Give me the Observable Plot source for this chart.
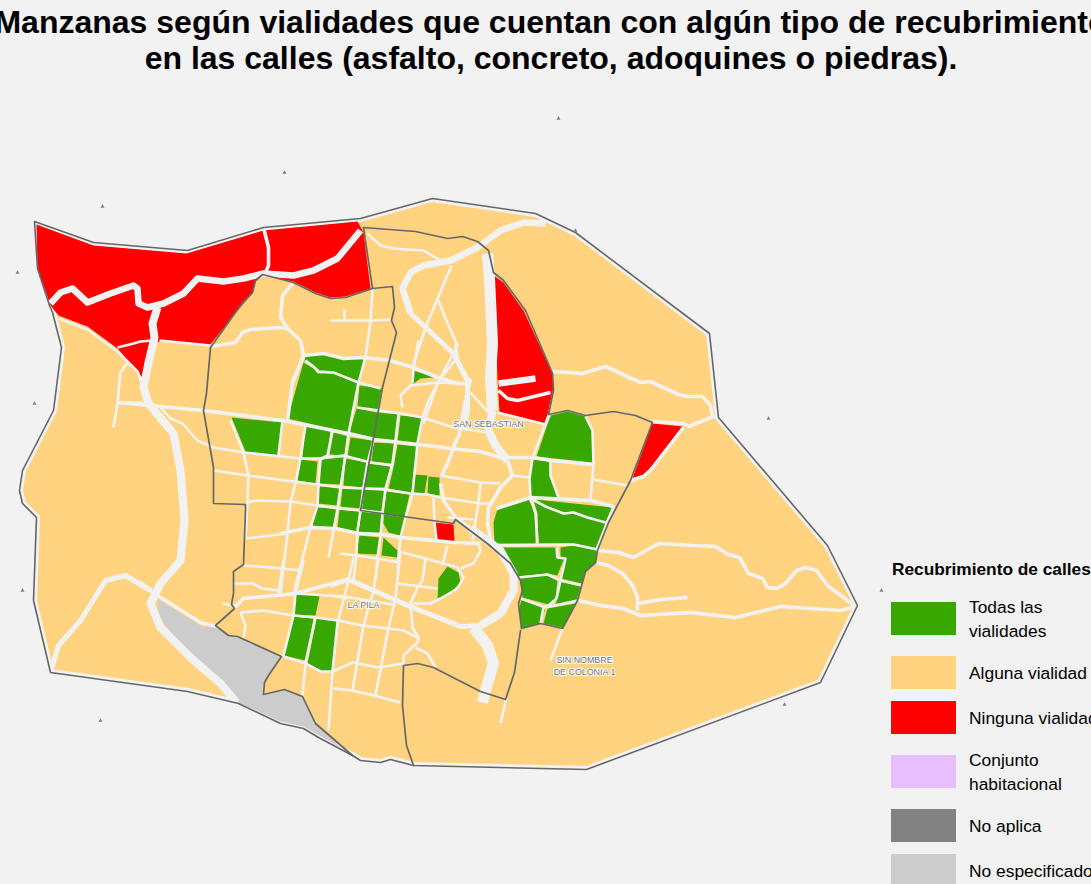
<!DOCTYPE html>
<html lang="es">
<head>
<meta charset="utf-8">
<script src="https://cdn.jsdelivr.net/npm/d3@7"></script>
<script src="https://cdn.jsdelivr.net/npm/@observablehq/plot@0.6"></script>
<style>
html,body{margin:0;padding:0;background:#f2f2f2;width:1091px;height:884px;overflow:hidden;position:relative;font-family:"Liberation Sans",Arial,sans-serif;}
#title{position:absolute;left:551px;top:4px;transform:translateX(-50%);white-space:nowrap;text-align:center;font-weight:bold;font-size:32px;line-height:36px;color:#000;margin:0;}
#chart{position:absolute;left:0;top:84px;}
#chart svg{display:block;background:transparent;}
#legend{position:absolute;left:0;top:0;width:1091px;height:884px;overflow:hidden;pointer-events:none;color:#000;}
#legend .t{position:absolute;left:892px;top:559px;font-weight:bold;font-size:17.3px;line-height:20px;white-space:nowrap;}
#legend .s{position:absolute;left:891px;width:65px;height:33px;}
#legend .l{position:absolute;left:969px;font-size:17.4px;line-height:24px;white-space:nowrap;transform:translateY(-50%);}
</style>
</head>
<body>
<h1 id="title">Manzanas según vialidades que cuentan con algún tipo de recubrimiento<br>en las calles (asfalto, concreto, adoquines o piedras).</h1>
<div id="chart"></div>
<div id="legend"></div>
<script>
const legendTitle = "Recubrimiento de calles";
const legendLabels = ["Todas las\nvialidades","Alguna vialidad","Ninguna vialidad","Conjunto\nhabitacional","No aplica","No especificado"];
const legendColors = ["#38a800","#ffd380","#ff0000","#e8beff","#828282","#cccccc"];

const cityOutline = [[[34,221],[93,242],[187,250],[263,227],[360,218],[432,198],[535,213],[575,232],[709,333],[718,417],[827,545],[857,605],[820,682],[586,769],[413,765],[390,759],[380,762],[360,760],[352,755],[318,737],[303,728],[280,723],[238,703],[187,691],[50,672],[33,600],[36,517],[22,503],[19,490],[22,470],[53,410],[61,347],[52,312],[49,305],[37,268],[34,221]]];

const grayBlocks = [[[158,599],[203,627],[215,626],[228,635],[237,636],[280,657],[268,675],[264,682],[263,694],[284,689],[302,696],[315,723],[340,747],[303,726],[280,721],[238,702],[227,685],[180,645],[160,618],[157,607]]];

const redBlocks = [
 [[36,224],[93,245],[186,253],[263,230],[357,221],[363,232],[370,288],[345,296],[330,297],[315,292],[293,281],[262,275],[255,281],[252,293],[243,303],[209,345],[160,341],[152,342],[142,377],[117,348],[87,326],[58,315],[50,305],[37,268]],
 [[493,275],[503,282],[523,310],[552,373],[553,387],[545,423],[499,412],[497,377]],
 [[652,423],[682,426],[650,467],[643,474],[632,478]],
 [[433,522],[453,524],[454,542],[436,539]]
];

const greenBlocks = [
 [[305,356],[330,353],[343,358],[363,358],[358,381],[333,372],[318,371],[313,365],[304,361]],
 [[303,362],[313,368],[317,373],[333,373],[357,383],[348,432],[287,418]],
 [[359,385],[381,388],[377,410],[357,406]],
 [[356,408],[377,412],[375,438],[349,432]],
 [[377,412],[398,414],[395,440],[374,438]],
 [[400,415],[422,417],[417,443],[397,441]],
 [[305,425],[330,431],[327,455],[319,459],[302,457]],
 [[333,432],[348,436],[345,455],[329,454]],
 [[350,437],[373,440],[370,461],[347,456]],
 [[373,442],[394,443],[392,463],[371,461]],
 [[397,444],[416,446],[411,493],[388,488],[393,467]],
 [[300,459],[317,461],[315,483],[297,480]],
 [[321,459],[343,457],[340,484],[318,483]],
 [[345,458],[367,462],[363,487],[343,485]],
 [[368,463],[390,466],[385,487],[364,487]],
 [[414,474],[427,475],[424,493],[412,492]],
 [[428,476],[439,477],[439,495],[427,493]],
 [[319,486],[339,486],[337,505],[317,503]],
 [[342,487],[363,488],[360,508],[340,506]],
 [[363,489],[384,490],[382,512],[360,508]],
 [[386,491],[409,494],[404,517],[383,513]],
 [[315,507],[337,508],[333,527],[312,525]],
 [[339,509],[359,511],[356,531],[337,527]],
 [[361,511],[382,513],[381,533],[358,531]],
 [[383,514],[404,517],[400,535],[388,532],[383,523]],
 [[359,535],[380,537],[377,554],[356,553]],
 [[383,537],[397,550],[397,557],[381,555]],
 [[412,370],[436,377],[420,378],[412,384]],
 [[231,417],[282,422],[277,455],[245,451]],
 [[447,566],[458,572],[460,582],[450,592],[437,600],[438,578]],
 [[550,415],[567,411],[585,416],[592,430],[592,462],[536,456]],
 [[532,459],[549,461],[549,475],[558,497],[530,497],[529,478]],
 [[497,508],[528,499],[535,513],[535,543],[494,543],[493,522]],
 [[533,500],[545,507],[563,514],[573,513],[587,518],[605,522],[597,548],[573,543],[538,543],[537,513]],
 [[535,499],[612,507],[605,521],[587,516],[573,511],[563,512],[545,505]],
 [[496,547],[556,547],[556,557],[563,559],[557,575],[547,573],[518,576],[510,562]],
 [[560,547],[573,545],[596,550],[595,562],[587,568],[581,583],[560,578],[563,558],[560,557]],
 [[519,577],[547,575],[557,580],[555,598],[548,604],[522,597]],
 [[559,581],[580,586],[576,600],[555,604],[557,597]],
 [[521,599],[545,607],[540,623],[522,628],[518,610]],
 [[547,608],[575,603],[562,627],[543,623]],
 [[295,594],[310,593],[319,596],[315,615],[293,614]],
 [[293,616],[313,618],[305,660],[283,655]],
 [[316,618],[337,620],[331,671],[320,671],[307,663]]
];

const riverStreets = [
 [[487,253],[489,277],[492,343],[490,377],[492,410]],
 [[473,627],[487,645],[493,663],[485,690],[482,702]]
];
const arroyoStreets = [
 [[148,403],[173,433],[180,470],[184,520],[180,560],[160,583],[150,603],[160,627],[190,657],[220,683],[236,702]],
 [[157,307],[152,323],[154,337],[148,362],[143,387],[148,403]],
 [[492,410],[488,430],[495,445],[507,460]],
 [[480,625],[500,613],[513,590],[513,573],[500,550],[487,540],[470,528]]
];
const wideStreets = [
 [[50,303],[60,292],[72,288],[87,302],[110,293],[133,285],[137,288],[138,303],[147,307],[163,303],[183,293],[197,278],[223,281],[243,278],[263,273],[293,275],[313,270],[337,258],[360,230]],
 [[545,223],[523,222],[500,230],[477,247],[450,260],[423,265],[410,272],[402,288],[410,313]],
 [[498,383],[535,378]]
];
const broadStreets = [
 [[410,313],[453,353],[467,380],[467,410],[463,428]],
 [[330,585],[348,579],[373,590],[412,607],[440,618],[460,626],[480,625]],
 [[50,672],[58,645],[80,620],[105,580],[125,575],[150,590]]
];
const midStreets = [
 [[263,227],[268,247],[268,265],[265,272]],
 [[210,346],[235,342],[242,332],[250,329],[278,327],[287,328]],
 [[292,283],[282,295],[280,317],[287,328],[300,340],[303,355],[292,382],[287,420]],
 [[117,402],[203,410],[282,420],[348,433],[374,439],[418,444],[450,448],[480,451],[500,457],[533,457],[550,460],[592,464]],
 [[303,355],[323,353],[343,358],[363,357],[390,360],[413,367],[437,377],[457,383],[467,383]],
 [[233,608],[243,598],[295,593],[317,587],[348,579]],
 [[578,600],[600,605],[623,608],[640,615],[690,612],[735,617],[780,606],[840,610],[855,606]],
 [[498,390],[507,398],[517,400],[550,392]],
 [[280,533],[310,527],[335,528],[358,533],[382,534],[400,537],[423,539],[453,542],[480,543]],
 [[507,460],[512,475],[500,487],[488,507],[487,523],[492,547]],
 [[496,508],[530,497],[590,500],[613,506]],
 [[458,437],[465,400],[470,378]],
 [[447,463],[457,437]],
 [[441,475],[447,463]],
 [[440,483],[443,500],[455,517],[470,528]],
 [[140,582],[157,595],[200,622],[217,626]],
 [[552,371],[582,373],[605,366],[640,382],[650,381],[678,394],[687,396],[702,396],[710,405],[712,416]],
 [[652,421],[683,423],[688,426],[713,416],[719,416]],
 [[683,427],[650,470],[643,476],[630,480]],
 [[597,550],[618,552],[633,557],[658,543],[715,546],[728,554],[739,557],[748,573],[762,578],[767,587],[776,588],[785,583],[796,570],[805,567],[816,570],[827,585],[855,606]],
 [[596,562],[608,565],[622,573],[632,585],[637,597],[637,610]],
 [[637,603],[660,599],[687,597]],
 [[117,402],[143,403]]
];
const thinStreets = [
 [[58,318],[87,329],[117,351],[137,371],[143,387]],
 [[159,340],[210,345]],
 [[117,347],[133,343],[140,341],[152,340]],
 [[127,362],[120,372],[117,403],[113,427]],
 [[160,407],[170,418],[182,423],[197,440],[213,447],[243,452],[300,458],[318,458],[325,457],[343,455],[370,462],[392,465]],
 [[230,420],[243,452],[248,475],[247,502],[245,538]],
 [[213,470],[247,475],[293,481],[340,487],[363,488],[385,489],[410,493],[427,494],[440,497],[480,503],[493,503]],
 [[247,502],[255,500],[290,501],[317,505],[338,508],[360,510],[382,512]],
 [[245,538],[287,533]],
 [[243,565],[283,568],[300,570]],
 [[233,583],[252,583],[262,588],[278,590]],
 [[222,603],[232,605]],
 [[240,612],[263,610],[293,615],[315,617],[337,620],[362,625],[388,628],[403,630],[417,637]],
 [[240,612],[245,625],[243,637]],
 [[282,420],[278,455]],
 [[305,425],[300,457],[295,483],[290,502],[287,533],[283,567],[280,592]],
 [[332,430],[327,455],[320,459],[318,483],[317,505],[310,527],[297,577],[293,595]],
 [[365,357],[358,382],[348,433],[345,455],[340,487],[337,508],[333,530],[328,557]],
 [[398,414],[395,440],[392,463],[385,488],[382,512],[380,535],[377,557],[375,580]],
 [[373,440],[367,462],[363,487],[360,510],[357,530],[356,553],[353,580]],
 [[422,417],[417,443],[412,493],[405,517],[400,537],[398,557],[397,580]],
 [[422,417],[428,400],[440,378],[457,357],[455,343]],
 [[418,340],[413,368],[412,383]],
 [[305,360],[313,366],[318,371],[333,372],[358,382],[380,388]],
 [[402,407],[400,395],[410,385],[437,382],[457,383]],
 [[357,407],[400,413],[422,417],[453,427],[488,432]],
 [[440,475],[480,482],[500,483]],
 [[447,517],[473,519]],
 [[433,497],[434,522],[436,540]],
 [[480,483],[478,503],[475,520],[472,540]],
 [[512,475],[530,477]],
 [[532,458],[529,478],[530,497],[535,513],[537,543]],
 [[532,499],[545,506],[563,513],[573,512],[587,517],[605,522]],
 [[494,545],[573,544],[597,549]],
 [[556,547],[557,557],[565,558],[560,580],[556,598],[548,605],[543,607],[540,623]],
 [[518,577],[547,574],[560,580],[582,585]],
 [[520,598],[545,607],[577,600]],
 [[585,416],[592,430],[593,463],[590,500]],
 [[593,479],[627,485]],
 [[550,460],[550,475],[558,497]],
 [[548,415],[532,458]],
 [[497,412],[545,424],[549,415]],
 [[562,628],[550,660]],
 [[506,697],[500,723]],
 [[367,233],[380,245],[393,248],[423,250],[440,260]],
 [[451,265],[425,327],[412,367]],
 [[438,300],[445,318],[457,345],[437,383],[423,423]],
 [[470,392],[488,412]],
 [[372,288],[370,320],[365,357]],
 [[330,320],[372,320],[390,319]],
 [[344,309],[344,320]],
 [[340,553],[377,558],[400,562]],
 [[402,552],[425,558],[443,563],[458,567]],
 [[460,568],[473,563],[480,550],[478,543]],
 [[457,567],[463,577],[457,588],[440,598],[430,603],[412,603]],
 [[353,557],[348,580],[337,622],[332,671],[328,730]],
 [[378,557],[373,590],[363,625],[352,690]],
 [[400,550],[395,598],[388,627],[375,695]],
 [[425,558],[422,580],[417,587],[410,603],[412,627],[418,637],[417,642],[403,655],[403,665]],
 [[447,545],[442,565]],
 [[397,583],[437,588]],
 [[295,593],[343,596],[392,604]],
 [[330,595],[347,598]],
 [[415,647],[427,653],[435,667]],
 [[280,655],[305,663],[320,671],[332,671],[352,662],[378,667],[403,663]],
 [[333,688],[352,690],[373,695],[400,702]],
 [[303,560],[295,593],[293,615],[283,655]],
 [[315,617],[305,662],[302,695]],
 [[283,560],[278,593]],
 [[607,522],[597,550]],
 [[596,549],[613,506]]
];
const localityLines = [
 [[210,347],[206,393],[203,410],[213,467],[213,503],[245,504],[245,510],[243,564],[233,571],[233,593],[231,604],[234,608],[215,625],[228,635],[237,636],[281,656],[268,675],[264,682],[263,694],[284,689],[302,696],[315,723],[352,755]],
 [[210,347],[242,302],[252,292],[255,280],[262,274],[293,282],[315,293],[330,298],[345,297],[372,288],[392,286],[394,307],[391,320],[396,332],[382,387],[360,510],[453,523],[455,519],[488,544],[510,563],[520,580],[522,590],[518,603],[521,628],[540,623],[562,628],[577,600],[585,571],[595,562],[597,550],[608,522],[630,480],[652,422],[635,415],[613,411],[585,415],[567,410],[548,414],[553,390],[552,373],[525,310],[503,280],[493,272],[488,250],[477,241],[462,236],[447,238],[415,231],[363,227],[372,288]],
 [[413,765],[406,745],[402,705],[403,665],[417,663],[433,667],[480,691],[505,699],[514,672],[520,630]]
];
const placeNames = ["SAN SEBASTIAN","LA PILA","SIN NOMBRE","DE COLONIA 1"];
const placeX = [488,363,584,584];
const placeY = [424,605,660,672];
const markerX = [558,284,102,17,34,22,100,575,768,784,881];
const markerY = [118,172,206,272,403,590,720,230,418,704,590];

const rows = list => list.flatMap((pts,id) => pts.map(([x,y]) => ({x,y,id})));
const poly = (list,fill) => Plot.line(rows(list),{x:"x",y:"y",z:"id",fill,stroke:"none",curve:"linear"});
const road = (list,w) => Plot.line(rows(list),{x:"x",y:"y",z:"id",stroke:"#f2f2f2",strokeWidth:w,strokeLinejoin:"round",strokeLinecap:"butt",curve:"linear"});

const plot = Plot.plot({
  width:1091,height:800,margin:0,
  x:{axis:null,domain:[0,1091],range:[0,1091]},
  y:{axis:null,domain:[84,884],range:[0,800]},
  style:{background:"transparent",overflow:"visible"},
  marks:[
    Plot.line(rows(cityOutline),{x:"x",y:"y",z:"id",fill:"#ffd380",stroke:"#f2f2f2",strokeWidth:7,strokeLinejoin:"round",curve:"linear"}),
    poly(grayBlocks,"#cccccc"),
    poly(redBlocks,"#ff0000"),
    poly(greenBlocks,"#38a800"),
    road(riverStreets,11),
    road(arroyoStreets,8),
    road(wideStreets,6.5),
    road(broadStreets,5),
    road(midStreets,3.6),
    road(thinStreets,2.6),
    Plot.line(rows(cityOutline),{x:"x",y:"y",z:"id",stroke:"#666666",strokeWidth:1.6,curve:"linear"}),
    Plot.line(rows(localityLines),{x:"x",y:"y",z:"id",stroke:"#666666",strokeWidth:1.7,strokeLinejoin:"round",curve:"linear"}),
    Plot.dot(markerX,{x:(d)=>d,y:(d,i)=>markerY[i],symbol:"triangle",r:1.5,fill:"#808080",stroke:"none"}),
    Plot.text(placeNames,{x:(d,i)=>placeX[i],y:(d,i)=>placeY[i],text:d=>d,fontSize:8.9,fill:"#6e6e6e",stroke:"#ffffff",strokeWidth:2,fontFamily:"Liberation Sans"})
  ]
});
document.getElementById("chart").appendChild(plot);

const lg = document.getElementById("legend");
const tEl = document.createElement("div"); tEl.className="t"; tEl.textContent=legendTitle; lg.appendChild(tEl);
const swatchTops=[602,656,701,755,809,854];
legendLabels.forEach((lab,i)=>{
  const s=document.createElement("div"); s.className="s"; s.style.top=swatchTops[i]+"px"; s.style.background=legendColors[i]; lg.appendChild(s);
  const l=document.createElement("div"); l.className="l"; l.style.top=(swatchTops[i]+17)+"px"; l.innerHTML=lab.replace("\n","<br>"); lg.appendChild(l);
});
</script>
</body>
</html>
